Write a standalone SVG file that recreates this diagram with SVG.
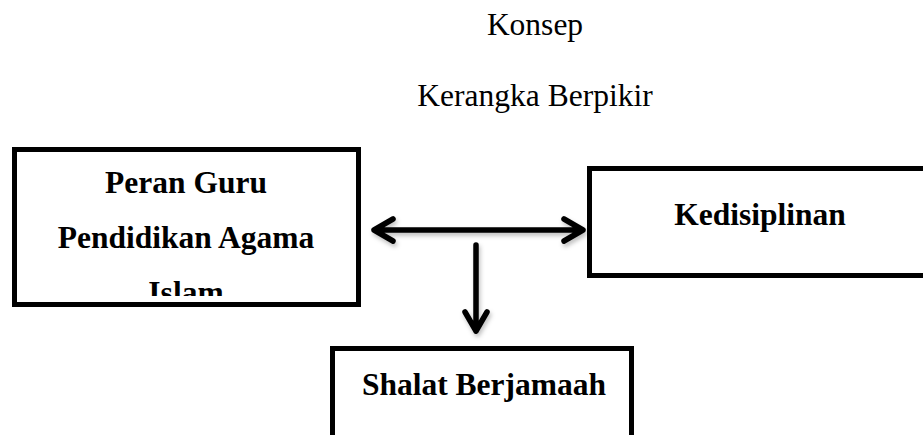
<svg xmlns="http://www.w3.org/2000/svg" width="923" height="435" viewBox="0 0 923 435">
<style>
.box{fill:#fff;stroke:#000;stroke-width:5}
.t{font-family:"Liberation Serif","Times New Roman",serif;font-size:31.5px;fill:#000;text-anchor:middle}
.b{font-weight:bold}
.arr{fill:none;stroke:#000;stroke-width:5.5;stroke-linecap:round;stroke-linejoin:round}
</style>
<defs>
<filter id="sh" x="-20%" y="-50%" width="140%" height="200%">
<feDropShadow dx="1.5" dy="3" stdDeviation="2" flood-color="#000" flood-opacity="0.25"/>
</filter>
<clipPath id="clipL"><rect x="0" y="140" width="370" height="156"/></clipPath>
</defs>
<rect width="923" height="435" fill="#fff"/>
<text class="t" x="535" y="35">Konsep</text>
<text class="t" x="535" y="106">Kerangka Berpikir</text>
<g id="node-peran">
<rect class="box" x="14.5" y="149.5" width="344" height="155"/>
<text class="t b" x="186" y="193">Peran Guru</text>
<text class="t b" x="186" y="248">Pendidikan Agama</text>
<text class="t b" x="186" y="303" clip-path="url(#clipL)">Islam</text>
</g>
<g id="node-kedisiplinan">
<rect class="box" x="589.5" y="168.5" width="360" height="107"/>
<text class="t b" x="760" y="225">Kedisiplinan</text>
</g>
<g id="node-shalat">
<rect class="box" x="332.5" y="348.5" width="299" height="120"/>
<text class="t b" x="484" y="395">Shalat Berjamaah</text>
</g>
<g id="connectors" filter="url(#sh)">
<path class="arr" d="M374 230 H583 M393 219 L374 230 L393 241 M564 219 L583 230 L564 241"/>
<path class="arr" d="M476 245 V331 M465 312 L476 331 L487 312"/>
</g>
</svg>
